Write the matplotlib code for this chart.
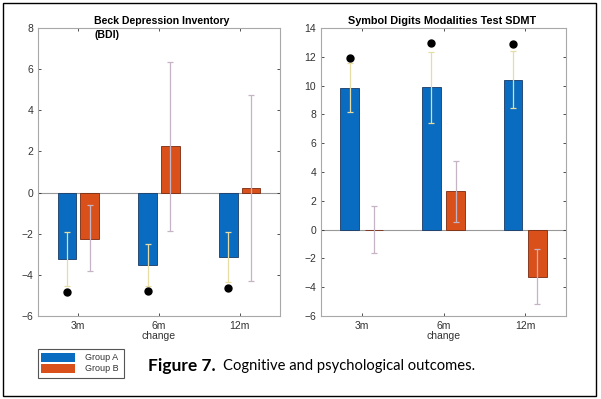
import numpy as np
import matplotlib
matplotlib.use('Agg')
import matplotlib.pyplot as plt
from matplotlib.patches import Rectangle

plt.rcParams['font.family'] = ['Liberation Sans', 'DejaVu Sans']

# 数据
categories = ['3m', '6m', '12m']

bdi_a = [-3.23, -3.53, -3.12]
bdi_a_hi = [-1.9, -2.5, -1.9]
bdi_a_lo = [-4.55, -4.55, -4.35]
bdi_a_dot = [-4.85, -4.8, -4.65]
bdi_b = [-2.25, 2.25, 0.2]
bdi_b_hi = [-0.6, 6.35, 4.75]
bdi_b_lo = [-3.8, -1.85, -4.3]

sdmt_a = [9.85, 9.9, 10.4]
sdmt_a_hi = [11.55, 12.35, 12.4]
sdmt_a_lo = [8.15, 7.42, 8.47]
sdmt_a_dot = [11.94, 12.96, 12.87]
sdmt_b = [0.0, 2.68, -3.29]
sdmt_b_hi = [1.65, 4.76, -1.35]
sdmt_b_lo = [-1.62, 0.55, -5.2]

col_a = '#0A6CC0'
col_b = '#DA501A'
err_a = '#E6DCA4'
err_b = '#C4B4C4'


def draw_panel(ax, a, a_hi, a_lo, a_dot, b, b_hi, b_lo, ylim, yticks, off):
    x = np.arange(1, len(categories) + 1)
    w = 0.23
    ax.bar(x - off, a, w, color=col_a, edgecolor='#1a3a66', linewidth=0.6, zorder=2)
    ax.bar(x + off, b, w, color=col_b, edgecolor='#7a2a10', linewidth=0.6, zorder=2)
    a = np.array(a); b = np.array(b)
    ax.errorbar(x - off, a, yerr=[a - np.array(a_lo), np.array(a_hi) - a], fmt='none',
                ecolor=err_a, elinewidth=0.9, capsize=2.5, capthick=0.9, zorder=3)
    ax.errorbar(x + off, b, yerr=[b - np.array(b_lo), np.array(b_hi) - b], fmt='none',
                ecolor=err_b, elinewidth=0.9, capsize=2.5, capthick=0.9, zorder=3)
    ax.plot(x - off, a_dot, 'o', color='black', markersize=5, zorder=4)
    ax.axhline(0, color='#999999', linewidth=0.8, zorder=1)
    ax.set_xlim(0.5, 3.5)
    ax.set_ylim(*ylim)
    ax.set_yticks(yticks)
    ax.set_xticks(x)
    ax.set_xticklabels(categories)
    ax.set_xlabel('change', fontsize=7.5, color='#333333', labelpad=0)
    ax.tick_params(axis='both', labelsize=7.5, colors='#333333', direction='in',
                   length=2.5, top=True, right=True, width=0.6)
    for s in ax.spines.values():
        s.set_color('#a8a8a8')
        s.set_linewidth(0.8)


fig = plt.figure(figsize=(6.01, 3.99), dpi=100)

# 左图
ax1 = fig.add_axes([38 / 601, 1 - 316 / 399, 242 / 601, 288 / 399])
draw_panel(ax1, bdi_a, bdi_a_hi, bdi_a_lo, bdi_a_dot, bdi_b, bdi_b_hi, bdi_b_lo,
           (-6, 8), np.arange(-6, 9, 2), 0.14)
fig.text(162 / 601, 1 - 15.5 / 399, 'Beck Depression Inventory\n(BDI)', ha='center', va='top',
         multialignment='left', fontsize=7.6, fontweight='bold', linespacing=1.5)

# 右图
ax2 = fig.add_axes([321 / 601, 1 - 316 / 399, 245 / 601, 288 / 399])
draw_panel(ax2, sdmt_a, sdmt_a_hi, sdmt_a_lo, sdmt_a_dot, sdmt_b, sdmt_b_hi, sdmt_b_lo,
           (-6, 14), np.arange(-6, 15, 2), 0.15)
fig.text(442 / 601, 1 - 21 / 399, 'Symbol Digits Modalities Test SDMT', ha='center', va='center',
         fontsize=7.8, fontweight='bold')

# 图例
fig.patches.append(Rectangle((38 / 601, 1 - 378 / 399), 86 / 601, 29 / 399,
                             transform=fig.transFigure, facecolor='white',
                             edgecolor='#555555', linewidth=0.8))
fig.patches.append(Rectangle((41 / 601, 1 - 362 / 399), 34 / 601, 9 / 399,
                             transform=fig.transFigure, facecolor=col_a, edgecolor='none'))
fig.patches.append(Rectangle((41 / 601, 1 - 373 / 399), 34 / 601, 9 / 399,
                             transform=fig.transFigure, facecolor=col_b, edgecolor='none'))
fig.text(85 / 601, 1 - 357.5 / 399, 'Group A', fontsize=6.5, va='center', color='#333333')
fig.text(85 / 601, 1 - 368.5 / 399, 'Group B', fontsize=6.5, va='center', color='#333333')

# 图注
fig.text(148 / 601, 1 - 366 / 399, 'Figure 7.', fontsize=12.5, fontweight='bold',
         va='center', family=['Lato', 'DejaVu Sans'])
fig.text(223 / 601, 1 - 366 / 399, 'Cognitive and psychological outcomes.', fontsize=10.6,
         va='center', family=['Lato', 'DejaVu Sans'])

# 外框
fig.patches.append(Rectangle((3 / 601, 1 - 396 / 399), 593 / 601, 393 / 399,
                             transform=fig.transFigure, facecolor='none',
                             edgecolor='black', linewidth=1.0))

fig.savefig('out.png', dpi=100)
